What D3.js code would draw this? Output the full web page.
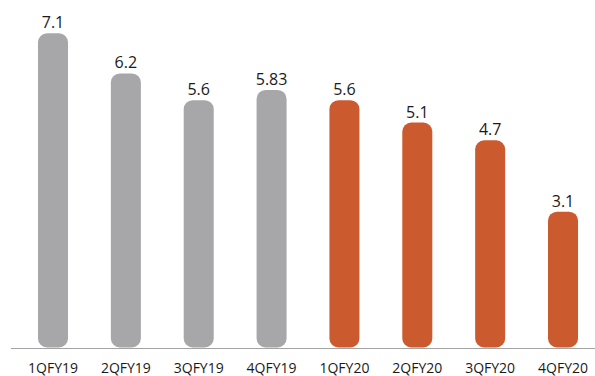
<!DOCTYPE html>
<html>
<head>
<meta charset="utf-8">
<script src="https://cdn.jsdelivr.net/npm/d3@7"></script>
<style>
  html, body { margin: 0; padding: 0; background: #fff; }
  svg { display: block; font-family: "Open Sans", "Noto Sans", sans-serif; }
</style>
</head>
<body>
<svg id="chart" width="595" height="376"></svg>
<script>
// Quarterly values
const quarters = ["1QFY19", "2QFY19", "3QFY19", "4QFY19", "1QFY20", "2QFY20", "3QFY20", "4QFY20"];
const values = [7.1, 6.2, 5.6, 5.83, 5.6, 5.1, 4.7, 3.1];
const valueLabels = ["7.1", "6.2", "5.6", "5.83", "5.6", "5.1", "4.7", "3.1"];
const fiscalYear = ["FY19", "FY19", "FY19", "FY19", "FY20", "FY20", "FY20", "FY20"];

const colors = { FY19: "#a7a7a9", FY20: "#cb5a2f" };

const svg = d3.select("#chart");
const baseY = 348.5;

const x = d3.scaleBand()
  .domain(quarters)
  .range([16.57, 599.45])
  .paddingInner(0.588)
  .paddingOuter(0.294);

const y = d3.scaleLinear()
  .domain([0, 7.1])
  .range([350, 33.3]);

const data = quarters.map((q, i) => ({ q, v: values[i], label: valueLabels[i], fy: fiscalYear[i] }));

// Bars with rounded ends
svg.append("g").selectAll("rect")
  .data(data)
  .join("rect")
  .attr("x", d => x(d.q))
  .attr("y", d => y(d.v))
  .attr("width", x.bandwidth())
  .attr("height", d => (baseY - 1) - y(d.v))
  .attr("rx", 9)
  .attr("ry", 9)
  .attr("fill", d => colors[d.fy]);

// Baseline
svg.append("line")
  .attr("x1", 11).attr("x2", 595)
  .attr("y1", baseY).attr("y2", baseY)
  .attr("stroke", "#a3a3a3")
  .attr("stroke-width", 1);

// Value labels
svg.append("g").selectAll("text")
  .data(data)
  .join("text")
  .attr("x", d => x(d.q) + x.bandwidth() / 2)
  .attr("y", d => y(d.v) - 5)
  .attr("text-anchor", "middle")
  .attr("font-size", 16)
  .attr("fill", "#1a1a1a")
  .text(d => d.label);

// Category labels
svg.append("g").selectAll("text")
  .data(data)
  .join("text")
  .attr("x", d => x(d.q) + x.bandwidth() / 2)
  .attr("y", 373)
  .attr("text-anchor", "middle")
  .attr("font-size", 14)
  .attr("fill", "#1a1a1a")
  .text(d => d.q);
</script>
</body>
</html>
